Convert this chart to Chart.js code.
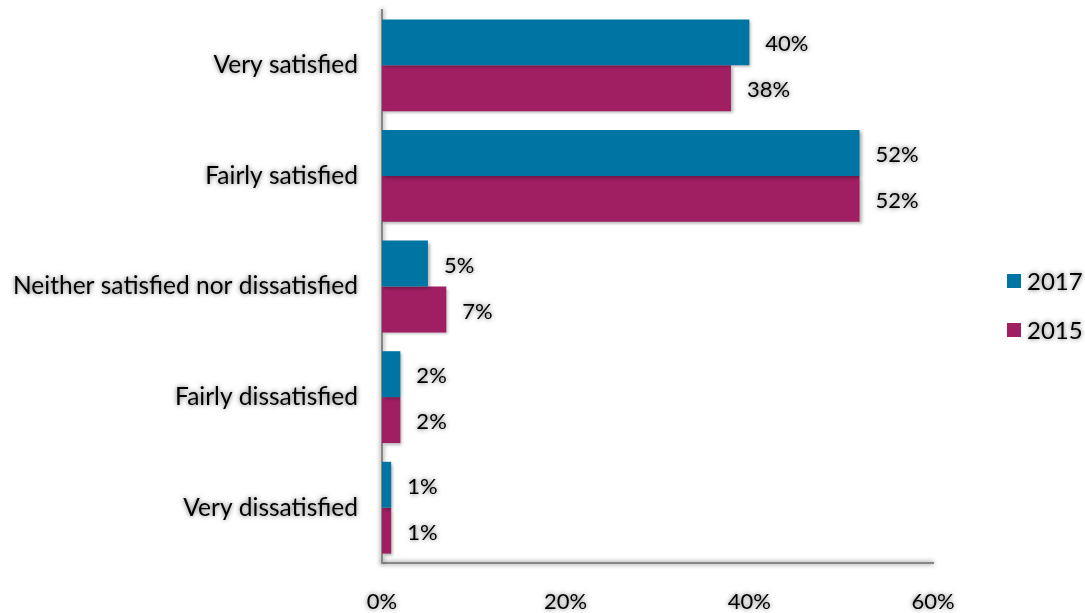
<!DOCTYPE html>
<html>
<head>
<meta charset="utf-8">
<script src="https://cdn.jsdelivr.net/npm/chart.js@4"></script>
<style>
  html, body { margin: 0; padding: 0; background: #fff; }
  #wrap { width: 1085px; height: 613px; }
</style>
</head>
<body>
<div id="wrap"><canvas id="chart"></canvas></div>
<script>
const categories = [
  'Very satisfied',
  'Fairly satisfied',
  'Neither satisfied nor dissatisfied',
  'Fairly dissatisfied',
  'Very dissatisfied',
];
const values2017 = [40, 52, 5, 2, 1];
const values2015 = [38, 52, 7, 2, 1];
const xTicks = [0, 20, 40, 60];

const FONT = 'Lato, "Open Sans", sans-serif';
const BLUE = '#0074a2';
const MAGENTA = '#9f1f62';

function setGlow(ctx) {
  ctx.shadowColor = 'rgba(0, 0, 0, 0.6)';
  ctx.shadowBlur = 5;
  ctx.shadowOffsetX = 0;
  ctx.shadowOffsetY = 0;
}

// grey glow on text and lines, drop shadow on bars, value labels + legend on the right
const glowPlugin = {
  id: 'glow',
  beforeDraw(chart) {
    chart.ctx.save();
    setGlow(chart.ctx);
  },
  beforeDatasetsDraw(chart) {
    const { ctx } = chart;
    ctx.shadowColor = 'rgba(0, 0, 0, 0.3)';
    ctx.shadowBlur = 3;
    ctx.shadowOffsetX = 2;
    ctx.shadowOffsetY = 2;
  },
  afterDatasetsDraw(chart) {
    const { ctx } = chart;
    setGlow(ctx);
    ctx.font = `22px ${FONT}`;
    ctx.fillStyle = '#000';
    ctx.textAlign = 'left';
    ctx.textBaseline = 'middle';
    chart.data.datasets.forEach((dataset, datasetIndex) => {
      const meta = chart.getDatasetMeta(datasetIndex);
      meta.data.forEach((bar, index) => {
        ctx.fillText(`${dataset.data[index]}%`, bar.x + 16, bar.y + 2);
      });
    });
  },
  afterDraw(chart) {
    const { ctx } = chart;
    const legendX = 1007;
    const legendY = [281, 330];
    ctx.font = `24px ${FONT}`;
    ctx.textAlign = 'left';
    ctx.textBaseline = 'middle';
    chart.data.datasets.forEach((dataset, i) => {
      ctx.shadowColor = 'transparent';
      ctx.fillStyle = dataset.backgroundColor;
      ctx.fillRect(legendX, legendY[i] - 7, 14, 14);
      setGlow(ctx);
      ctx.fillStyle = '#000';
      ctx.fillText(dataset.label, legendX + 20, legendY[i] + 1);
    });
    ctx.restore();
  },
};

new Chart(document.getElementById('chart'), {
  type: 'bar',
  data: {
    labels: categories,
    datasets: [
      {
        label: '2017',
        data: values2017,
        backgroundColor: BLUE,
        borderWidth: 0,
        categoryPercentage: 0.83,
        barPercentage: 1,
      },
      {
        label: '2015',
        data: values2015,
        backgroundColor: MAGENTA,
        borderWidth: 0,
        categoryPercentage: 0.83,
        barPercentage: 1,
      },
    ],
  },
  plugins: [glowPlugin],
  options: {
    indexAxis: 'y',
    responsive: true,
    maintainAspectRatio: false,
    animation: false,
    layout: { padding: { top: 10, right: 152, left: 0, bottom: 0 } },
    plugins: {
      legend: { display: false },
      tooltip: { enabled: false },
    },
    scales: {
      x: {
        min: 0,
        max: 60,
        afterBuildTicks(scale) {
          scale.ticks = xTicks.map((value) => ({ value }));
        },
        afterFit(scale) {
          scale.height = 50;
        },
        grid: { display: false, drawTicks: false },
        border: { display: true, color: '#868686', width: 2 },
        ticks: {
          padding: 26,
          color: '#000',
          font: { family: FONT, size: 22 },
          callback: (value) => `${value}%`,
        },
      },
      y: {
        afterFit(scale) {
          scale.width = 382;
          scale.paddingTop = 0;
          scale.paddingBottom = 0;
        },
        grid: { display: false, drawTicks: false },
        border: { display: true, color: '#868686', width: 2 },
        ticks: {
          padding: 24,
          color: '#000',
          font: { family: FONT, size: 24.5 },
        },
      },
    },
  },
});
</script>
</body>
</html>
